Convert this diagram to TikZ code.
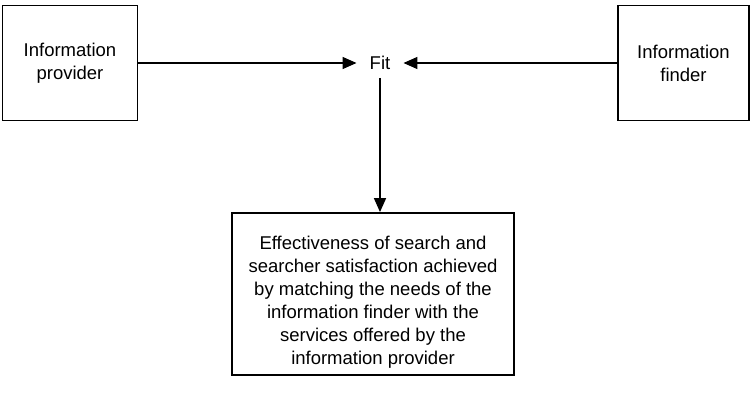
\documentclass[tikz,border=0pt]{standalone}
\usepackage{fontspec}
\setmainfont{Liberation Sans}
\usetikzlibrary{arrows.meta,positioning}
\tikzset{
  ar/.style={-{Triangle[length=14pt,width=12pt]},line width=1.5pt},
  box/.style={draw,line width=1.8pt,align=center,inner sep=0pt,font=\fontsize{18.5}{23}\selectfont},
  lbl/.style={font=\fontsize{18.5}{23}\selectfont,inner xsep=13pt,inner ysep=8pt}
}
\begin{document}
\begin{tikzpicture}[x=1pt,y=-1pt]
\useasboundingbox (0,0) rectangle (750,405);
\node[box,minimum width=135pt,minimum height=115pt] (prov) at (70,63) {Information\\provider};
\node[box,minimum width=131pt,minimum height=115pt] (find) at (683.5,63) {Information\\finder};
\node[lbl] (fit) at (380,63) {Fit};
\node[box,minimum width=282pt,minimum height=162pt,text height=140pt,text depth=0pt] (eff) at (373,294)
  {Effectiveness of search and\\searcher satisfaction achieved\\by matching the needs of the\\information finder with the\\services offered by the\\information provider};
\draw[ar] (prov) -- (fit);
\draw[ar] (find) -- (fit);
\draw[ar] (fit) -- (fit |- eff.north);
\end{tikzpicture}
\end{document}
